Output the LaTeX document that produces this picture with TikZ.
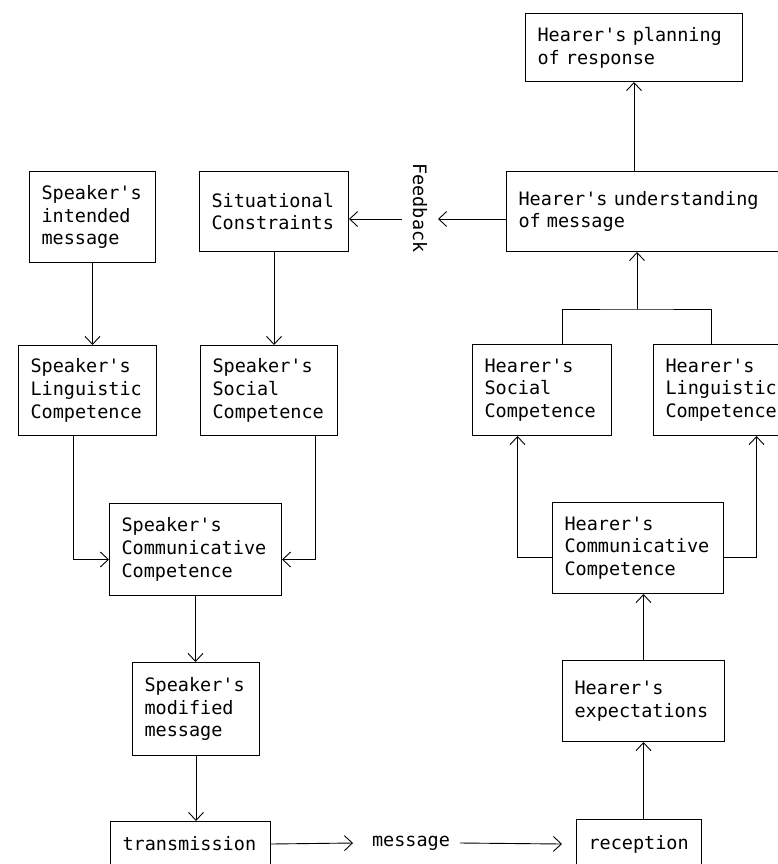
\documentclass[tikz,border=0pt]{standalone}
\usepackage{fontspec}
\setmonofont{DejaVu Sans Mono}
\usetikzlibrary{arrows.meta}

\begin{document}
\begin{tikzpicture}[x=1pt,y=-1pt]

	%DEFINICIONES
	\tikzstyle{every node}=[font=\ttfamily\fontsize{18.5}{22.7}\selectfont]
	\tikzstyle{caja} = [draw, anchor=north west, align=left, line width=1pt, inner xsep=12pt, inner ysep=0pt]
	\tikzstyle{blank} = [inner sep=0pt, outer sep=0pt]
	\tikzstyle{flecha} = [-{Straight Barb[length=8pt,width=15pt]}, line width=0.9pt]
	\tikzstyle{linea} = [line width=0.9pt]

	\useasboundingbox (0,0) rectangle (778,864);

	%CAJAS HABLANTE
	\draw(29,171) node[caja, text width=102pt, minimum height=91pt](intend){Speaker's\\intended\\message};
	\draw(199,171) node[caja, text width=125pt, minimum height=80pt](situ){Situational\\Constraints};
	\draw(18,345) node[caja, text width=114pt, minimum height=90pt](spling){Speaker's\\Linguistic\\Competence};
	\draw(200,345) node[caja, text width=113pt, minimum height=90pt](spsoc){Speaker's\\Social\\Competence};
	\draw(109,503) node[caja, text width=148pt, minimum height=92pt](spcomm){Speaker's\\Communicative\\Competence};
	\draw(132,662) node[caja, text width=103pt, minimum height=93pt](spmod){Speaker's\\modified\\message};
	\draw(110,821) node[caja, text width=136pt, minimum height=45pt](trans){transmission};

	%CAJAS OYENTE
	\draw(525,13) node[caja, text width=193pt, minimum height=68pt](plan){Hearer's planning\\of response};
	\draw(506,171) node[caja, text width=258pt, minimum height=80pt](underst){Hearer's understanding\\of message};
	\draw(472,344) node[caja, text width=115pt, minimum height=91pt](hsoc){Hearer's\\Social\\Competence};
	\draw(653,344) node[caja, text width=116pt, minimum height=91pt](hling){Hearer's\\Linguistic\\Competence};
	\draw(552,502) node[caja, text width=147pt, minimum height=91pt](hcomm){Hearer's\\Communicative\\Competence};
	\draw(562,660) node[caja, text width=138pt, minimum height=81pt](hexp){Hearer's\\expectations};
	\draw(576,819) node[caja, text width=101pt, minimum height=49pt](recep){reception};

	\draw(411,843) node[blank](msg){message};
	\draw(420,208) node[blank, rotate=-90](fb){Feedback};
	\coordinate (fbin) at (438,219);
	\coordinate (fbout) at (402,219);
	\coordinate (junta) at (637,309);

	%FLECHAS
	\draw [flecha] (intend.south) -- (intend.south |- spling.north);
	\draw [flecha] (situ.south) -- (situ.south |- spsoc.north);
	\draw [flecha] ([xshift=-14pt]spling.south) |- ([yshift=-10pt]spcomm.west);
	\draw [flecha] ([xshift=46.5pt]spsoc.south) |- ([yshift=-10pt]spcomm.east);
	\draw [flecha] (spcomm.south) -- (spcomm.south |- spmod.north);
	\draw [flecha] (spmod.south) -- (spmod.south |- trans.north);
	\draw [flecha] (trans.east) -- ([xshift=-19pt]msg.west);
	\draw [flecha] ([xshift=10pt]msg.east) -- ([xshift=-14pt]recep.west);
	\draw [flecha] (recep.north -| hexp.south) -- (hexp.south);
	\draw [flecha] (hexp.north) -- (hexp.north |- hcomm.south);
	\draw [flecha] ([yshift=-9.5pt]hcomm.west) -| ([xshift=-24.5pt]hsoc.south);
	\draw [flecha] ([yshift=-9.5pt]hcomm.east) -| ([xshift=33pt]hling.south);
	\draw [linea] ([xshift=20.5pt]hsoc.north) |- (junta) -| ([xshift=-12pt]hling.north);
	\draw [flecha] (junta) -- (junta |- underst.south);
	\draw [flecha] (underst.north -| plan.south) -- (plan.south);
	\draw [flecha] (underst.west |- fbin) -- (fbin);	%FEEDBACK
	\draw [flecha] (fbout) -- (fbout -| situ.east);
\end{tikzpicture}
\end{document}
